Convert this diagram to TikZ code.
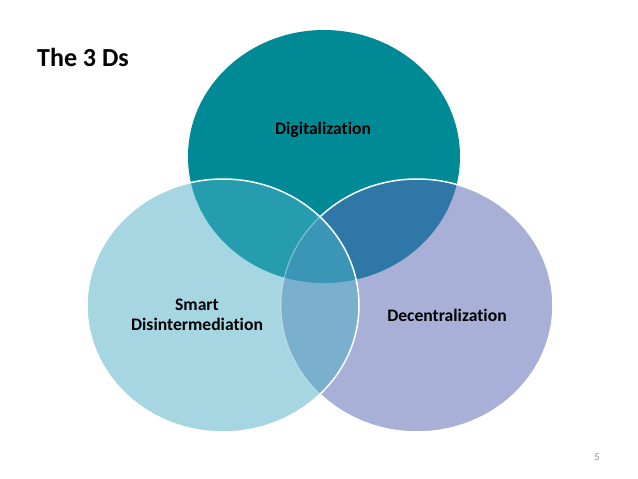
\documentclass[tikz,border=0pt]{standalone}
\usepackage{fontspec}
\setmainfont{Carlito}[Ligatures={NoCommon}]
\definecolor{ctop}{HTML}{008A96}
\definecolor{cleft}{HTML}{A5D6E2}
\definecolor{cright}{HTML}{A9B0D8}
\definecolor{ctl}{HTML}{259DAE}
\definecolor{ctr}{HTML}{2E77A7}
\definecolor{clr}{HTML}{7AAFCE}
\definecolor{cmid}{HTML}{3A95B6}
\definecolor{cnum}{HTML}{8C8C8C}
\begin{document}
\begin{tikzpicture}[x=1pt,y=-1pt,
  ell/.style={x radius=136pt,y radius=126.5pt},
  lbl/.style={font=\fontsize{17.6}{19.5}\selectfont\bfseries, text=black, align=center, inner sep=0pt},
  rim/.style={draw=white, line width=1.5pt}]
\fill[white] (0,0) rectangle (638,479);
\useasboundingbox (0,0) rectangle (638,479);
\coordinate (T) at (324,156.5);
\coordinate (L) at (223,305.5);
\coordinate (R) at (417,305.5);
% base fills
\fill[ctop] (T) ellipse [ell];
\fill[cleft] (L) ellipse [ell];
\fill[cright] (R) ellipse [ell];
\begin{scope}
  \clip (T) ellipse [ell];
  \fill[ctl] (L) ellipse [ell];
  \fill[ctr] (R) ellipse [ell];
\end{scope}
\begin{scope}
  \clip (L) ellipse [ell];
  \fill[clr] (R) ellipse [ell];
  \clip (T) ellipse [ell];
  \fill[cmid] (R) ellipse [ell];
\end{scope}
% right rim, full white
\draw[rim] (R) ellipse [ell];
% erase it inside left circle and redraw faint
\begin{scope}
  \clip (L) ellipse [ell];
  \fill[cleft] (L) ellipse [ell];
  \begin{scope}
    \clip (T) ellipse [ell];
    \fill[ctl] (L) ellipse [ell];
  \end{scope}
  \begin{scope}
    \clip (R) ellipse [ell];
    \fill[clr] (R) ellipse [ell];
    \clip (T) ellipse [ell];
    \fill[cmid] (R) ellipse [ell];
  \end{scope}
  \draw[draw=white, line width=1.2pt, opacity=0.35] (R) ellipse [ell];
\end{scope}
% left rim
\draw[rim] (L) ellipse [ell];
% labels
\node[lbl] (dig) at (323,130) {Digitalization};
\node[lbl] (dec) at (447,315) {Decentralization};
\node[lbl] (smart) at (197,315) {Smart\\Disintermediation};
\node[anchor=base west, inner sep=0pt, font=\fontsize{26}{31}\selectfont\bfseries] (title) at (37,66) {The 3 Ds};
\node[anchor=base, inner sep=0pt, text=cnum, font=\fontsize{10.5}{12}\selectfont] (num) at (597,460) {5};
\end{tikzpicture}
\end{document}
